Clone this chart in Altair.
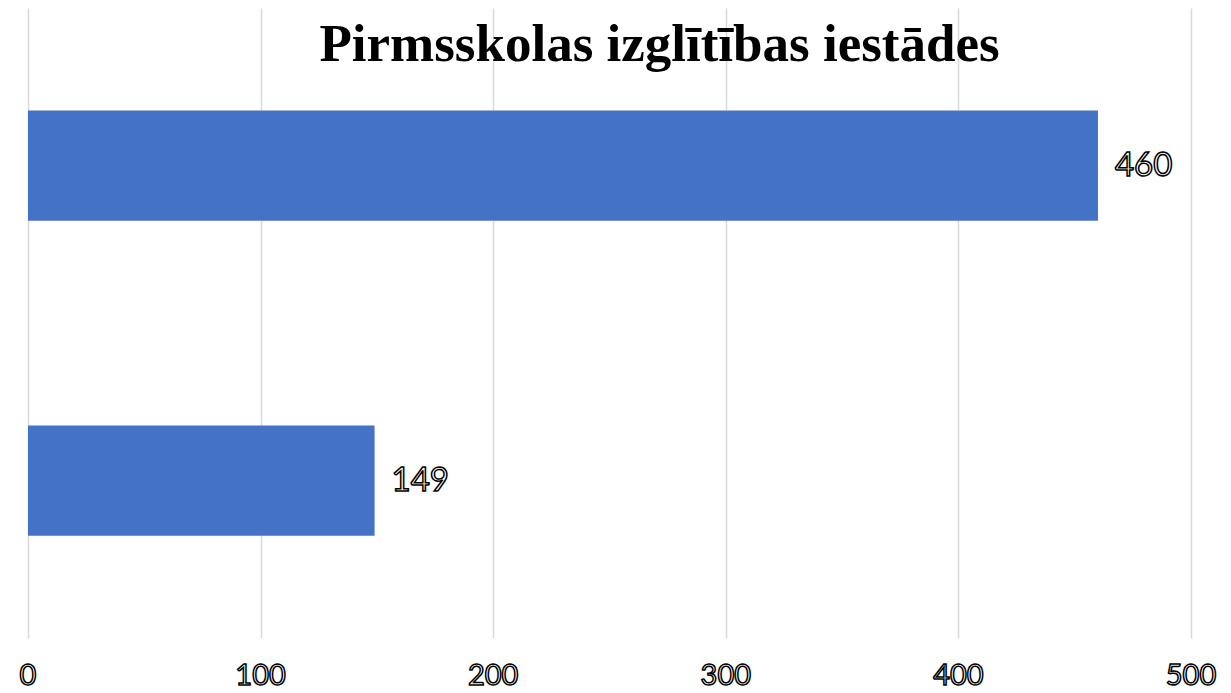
import altair as alt
import pandas as pd

categories = ["A", "B"]
values = [460, 149]
tick_values = [0, 100, 200, 300, 400, 500]
title_text = "Pirmsskolas izglītības iestādes"

df = pd.DataFrame({"cat": categories, "val": values})
ticks = pd.DataFrame({"t": tick_values, "label": [str(t) for t in tick_values]})

xscale = alt.Scale(domain=[0, 500], nice=False, zero=True)
yscale = alt.Scale(domain=categories, paddingInner=0.65, paddingOuter=0.325)

bars = alt.Chart(df).mark_bar(color="#4472C4").encode(
    x=alt.X("val:Q", scale=xscale,
            axis=alt.Axis(values=tick_values, labels=False, ticks=False, domain=False,
                          grid=True, gridColor="#d9d9d9", gridWidth=1.5, title=None)),
    y=alt.Y("cat:N", scale=yscale, sort=categories, axis=None),
)

labels = alt.Chart(df).mark_text(
    align="left", baseline="middle", dx=17, font="Lato", fontSize=33,
    fill="white", stroke="black", strokeWidth=1.5
).encode(
    x=alt.X("val:Q", scale=xscale),
    y=alt.Y("cat:N", scale=yscale, sort=categories),
    text=alt.Text("val:Q"),
)

tick_text = alt.Chart(ticks).mark_text(
    align="center", baseline="alphabetic", font="Lato", fontSize=29,
    fill="white", stroke="black", strokeWidth=1.5
).encode(
    x=alt.X("t:Q", scale=xscale),
    y=alt.value(677),
    text="label:N",
)

chart = alt.layer(bars, labels, tick_text).properties(
    width=1163, height=630,
    title=alt.TitleParams(title_text, font="Liberation Serif", fontSize=53, fontWeight="bold",
                          color="black", anchor="middle", offset=-106, dx=50,
                          baseline="alphabetic"),
    autosize=alt.AutoSizeParams(type="none"),
    padding={"left": 20, "top": 0, "right": 32, "bottom": 52},
).configure_view(stroke=None)

chart.save("out.html", embed_options={"renderer": "svg", "actions": False})
